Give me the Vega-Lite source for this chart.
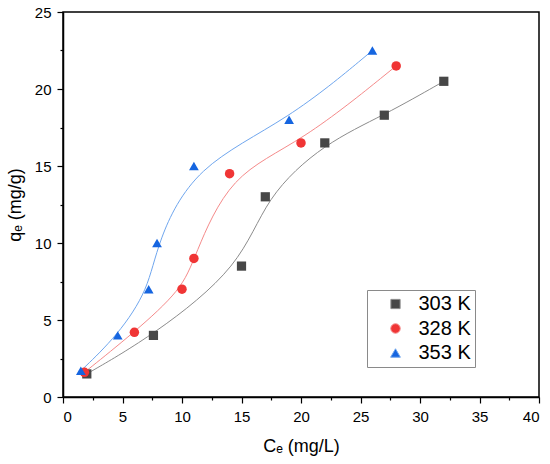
{
  "$schema": "https://vega.github.io/schema/vega-lite/v6.json",
  "width": 476,
  "height": 385,
  "autosize": "none",
  "padding": {"left": 63, "top": 12, "right": 11, "bottom": 67},
  "background": "white",
  "config": {
    "font": "Liberation Sans",
    "view": {"stroke": "black", "strokeWidth": 1.5},
    "axis": {"grid": false, "domainColor": "black", "domainWidth": 1.5, "tickColor": "black", "tickWidth": 1.2, "labelFontSize": 15, "labelPadding": 6, "labelColor": "black", "titleFontSize": 18, "titleFontWeight": "normal", "titleColor": "black", "labelFont": "Liberation Sans", "titleFont": "Liberation Sans"},
    "legend": {"orient": "none", "legendX": 304, "legendY": 278, "labelFontSize": 20, "labelFont": "Liberation Sans", "labelColor": "black", "symbolSize": 100, "strokeColor": "#8a8a8a", "fillColor": "white", "padding": 4, "rowPadding": 4.5, "symbolOffset": 14.5, "labelOffset": 13}
  },
  "data": {"values": [
    {"T": "303 K", "Ce": 2, "qe": 1.5},
    {"T": "303 K", "Ce": 7.6, "qe": 4},
    {"T": "303 K", "Ce": 15, "qe": 8.5},
    {"T": "303 K", "Ce": 17, "qe": 13},
    {"T": "303 K", "Ce": 22, "qe": 16.5},
    {"T": "303 K", "Ce": 27, "qe": 18.3},
    {"T": "303 K", "Ce": 32, "qe": 20.5},
    {"T": "328 K", "Ce": 1.8, "qe": 1.6},
    {"T": "328 K", "Ce": 6, "qe": 4.2},
    {"T": "328 K", "Ce": 10, "qe": 7},
    {"T": "328 K", "Ce": 11, "qe": 9},
    {"T": "328 K", "Ce": 14, "qe": 14.5},
    {"T": "328 K", "Ce": 20, "qe": 16.5},
    {"T": "328 K", "Ce": 28, "qe": 21.5},
    {"T": "353 K", "Ce": 1.5, "qe": 1.7},
    {"T": "353 K", "Ce": 4.6, "qe": 4},
    {"T": "353 K", "Ce": 7.2, "qe": 7},
    {"T": "353 K", "Ce": 7.9, "qe": 10},
    {"T": "353 K", "Ce": 11, "qe": 15},
    {"T": "353 K", "Ce": 19, "qe": 18},
    {"T": "353 K", "Ce": 26, "qe": 22.5}
  ]},
  "encoding": {
    "x": {"field": "Ce", "type": "quantitative", "scale": {"domain": [0, 40], "nice": false},
      "axis": {"values": [0, 2.5, 5, 7.5, 10, 12.5, 15, 17.5, 20, 22.5, 25, 27.5, 30, 32.5, 35, 37.5, 40], "labelExpr": "datum.value % 5 === 0 ? datum.label : ''", "tickSize": {"condition": {"test": "datum.value % 5 === 0", "value": 6}, "value": 3}, "title": "Cₑ (mg/L)", "titlePadding": 13}},
    "y": {"field": "qe", "type": "quantitative", "scale": {"domain": [0, 25], "nice": false},
      "axis": {"values": [0, 2.5, 5, 7.5, 10, 12.5, 15, 17.5, 20, 22.5, 25], "labelExpr": "datum.value % 5 === 0 ? datum.label : ''", "tickSize": {"condition": {"test": "datum.value % 5 === 0", "value": 6}, "value": 3}, "title": "qₑ (mg/g)", "titlePadding": 10}}
  },
  "layer": [
    {
      "transform": [{"filter": "datum.T === '303 K'"}],
      "mark": {"type": "line", "interpolate": "basis", "strokeWidth": 1, "color": "#8c8c8c"},
      "encoding": {}
    },
    {
      "transform": [{"filter": "datum.T === '328 K'"}],
      "mark": {"type": "line", "interpolate": "basis", "strokeWidth": 1, "color": "#f58a8a"},
      "encoding": {}
    },
    {
      "transform": [{"filter": "datum.T === '353 K'"}],
      "mark": {"type": "line", "interpolate": "basis", "strokeWidth": 1, "color": "#6fa6ee"},
      "encoding": {}
    },
    {
      "mark": {"type": "point", "filled": true, "opacity": 1},
      "encoding": {
        "color": {"field": "T", "type": "nominal", "scale": {"domain": ["303 K", "328 K", "353 K"], "range": ["#474747", "#f03535", "#1565e0"]},
          "legend": {"title": null,
            "symbolType": {"expr": "datum.value === '303 K' ? 'M-4.4,0H-0.95M0.95,0H4.4M-0.95,-0.95H0.95V0.95H-0.95Z' : datum.value === '328 K' ? 'M-4.4,0H-1M1,0H4.4M-1,0A1,1,0,1,0,1,0A1,1,0,1,0,-1,0Z' : 'M-4.4,0H-0.8M0.8,0H4.4M0,-1.25L1.15,0.8L-1.15,0.8Z'"},
            "symbolStrokeColor": {"expr": "datum.value === '303 K' ? '#8c8c8c' : datum.value === '328 K' ? '#f58a8a' : '#6fa6ee'"},
            "symbolStrokeWidth": 1}},
        "shape": {"field": "T", "type": "nominal", "scale": {"domain": ["303 K", "328 K", "353 K"], "range": ["square", "circle", "triangle-up"]}, "legend": null},
        "size": {"field": "T", "type": "nominal", "scale": {"domain": ["303 K", "328 K", "353 K"], "range": [85, 95, 135]}, "legend": null}
      }
    }
  ]
}
